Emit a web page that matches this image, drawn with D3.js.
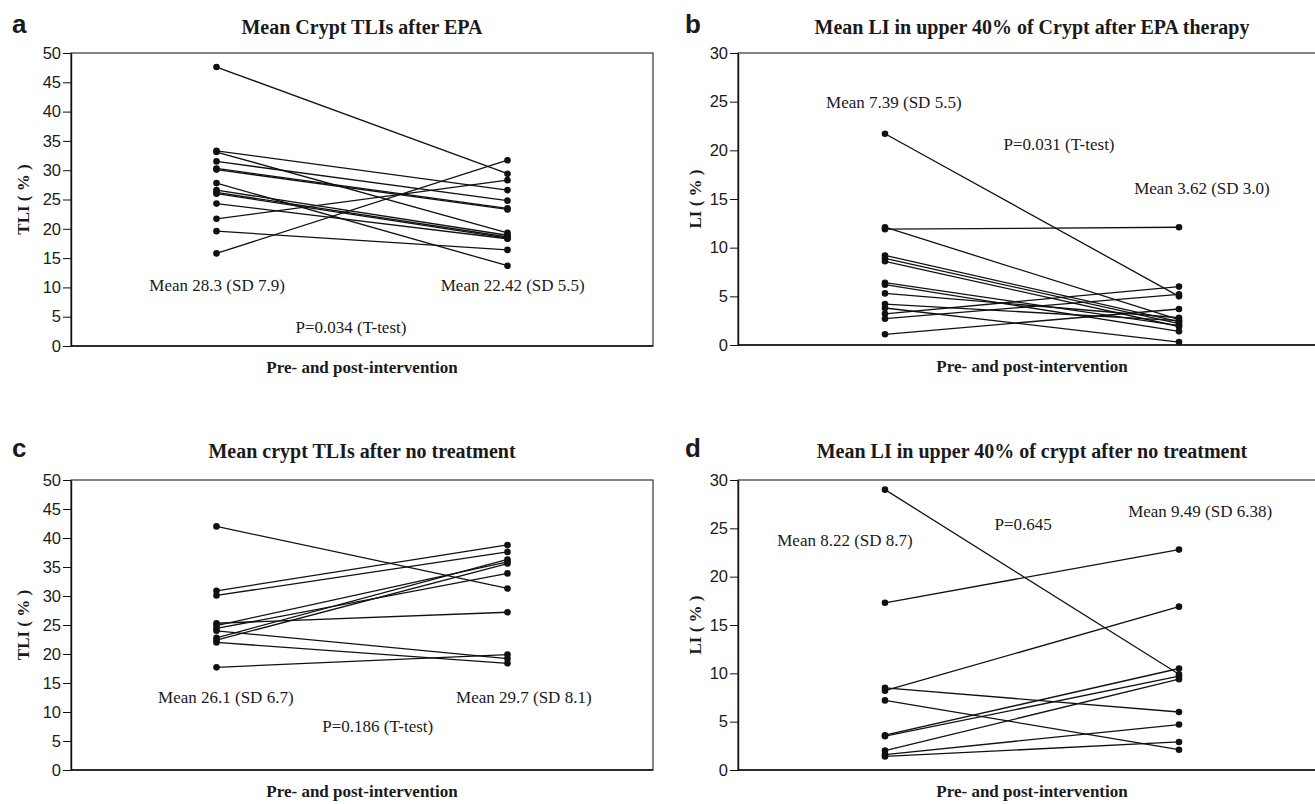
<!DOCTYPE html>
<html>
<head>
<meta charset="utf-8">
<script src="https://cdn.jsdelivr.net/npm/d3@7"></script>
<style>
  body { margin: 0; background: #fff; }
  svg text { fill: #1a1a1a; }
</style>
</head>
<body>
<svg id="fig" width="1315" height="804"></svg>
<script>
// ---- data ----
var phases = ['Pre', 'Post']

// a - mean crypt TLI after EPA (%)
var tliEpaPre  = [47.6, 33.3, 33.1, 31.5, 30.3, 30.1, 27.8, 26.6, 26.2, 26.0, 24.3, 21.7, 19.6, 15.8]
var tliEpaPost = [29.4, 26.6, 19.3, 24.8, 23.5, 23.3, 13.7, 18.9, 18.6, 18.4, 18.3, 28.3, 16.4, 31.7]

// b - mean LI in upper 40% of crypt after EPA (%)
var liEpaPre  = [21.7, 11.9, 12.1, 9.2, 8.9, 8.6, 6.4, 6.2, 5.3, 4.2, 3.8, 3.2, 2.7, 1.1]
var liEpaPost = [5.0, 12.1, 2.6, 2.4, 2.2, 1.9, 2.0, 1.4, 2.8, 2.5, 0.3, 6.0, 5.2, 3.7]

// c - mean crypt TLI after no treatment (%)
var tliNonePre  = [42.0, 30.9, 30.1, 25.3, 24.9, 24.4, 24.0, 22.8, 22.4, 22.0, 17.7]
var tliNonePost = [31.3, 38.8, 37.6, 27.2, 35.9, 33.9, 19.2, 36.3, 35.6, 18.4, 19.9]

// d - mean LI in upper 40% of crypt after no treatment (%)
var liNonePre  = [29.0, 17.3, 8.5, 8.2, 7.2, 3.6, 3.5, 2.0, 1.6, 1.4]
var liNonePost = [9.9, 22.8, 6.0, 16.9, 2.1, 10.5, 9.7, 9.4, 4.7, 2.9]

var yTicksTli = [0, 5, 10, 15, 20, 25, 30, 35, 40, 45, 50]
var yTicksLi  = [0, 5, 10, 15, 20, 25, 30]

var xTitle = 'Pre- and post-intervention'

// panel layout
var panels = [
  { tag: 'a', title: 'Mean Crypt TLIs after EPA', yLabel: 'TLI ( % )', ticks: yTicksTli,
    pre: tliEpaPre, post: tliEpaPost, box: { x: 71, y: 53, w: 582, h: 293 }, ylabX: 29, titleY: 34,
    notes: [ ['Mean 28.3 (SD 7.9)', 0.251, 10.4], ['Mean 22.42 (SD 5.5)', 0.759, 10.4], ['P=0.034 (T-test)', 0.481, 3.1] ] },
  { tag: 'b', title: 'Mean LI in upper 40% of Crypt after EPA therapy', yLabel: 'LI ( % )', ticks: yTicksLi,
    pre: liEpaPre, post: liEpaPost, box: { x: 738, y: 53, w: 588, h: 292 }, ylabX: 701, titleY: 34,
    notes: [ ['Mean 7.39 (SD 5.5)', 0.265, 24.9], ['P=0.031 (T-test)', 0.546, 20.6], ['Mean 3.62 (SD 3.0)', 0.789, 16.1] ] },
  { tag: 'c', title: 'Mean crypt TLIs after no treatment', yLabel: 'TLI ( % )', ticks: yTicksTli,
    pre: tliNonePre, post: tliNonePost, box: { x: 71, y: 480, w: 582, h: 290 }, ylabX: 29, titleY: 458,
    notes: [ ['Mean 26.1 (SD 6.7)', 0.266, 12.5], ['Mean 29.7 (SD 8.1)', 0.778, 12.5], ['P=0.186 (T-test)', 0.527, 7.5] ] },
  { tag: 'd', title: 'Mean LI in upper 40% of crypt after no treatment', yLabel: 'LI ( % )', ticks: yTicksLi,
    pre: liNonePre, post: liNonePost, box: { x: 738, y: 480, w: 588, h: 290 }, ylabX: 701, titleY: 458,
    notes: [ ['Mean 8.22 (SD 8.7)', 0.182, 23.8], ['P=0.645', 0.485, 25.4], ['Mean 9.49 (SD 6.38)', 0.786, 26.8] ] }
]

var serif = '"Liberation Serif", "Times New Roman", serif'
var sans  = '"Liberation Sans", Arial, sans-serif'

var svg = d3.select('#fig')

panels.forEach(function(p) {
  var b = p.box
  var x = d3.scalePoint().domain(phases).range([0, b.w]).padding(0.5)
  var y = d3.scaleLinear().domain([0, d3.max(p.ticks)]).range([b.h, 0])
  var left = b.x < 400

  // panel letter
  svg.append('text')
      .attr('x', left ? 12 : 685)
      .attr('y', p.titleY - 1)
      .style('font-family', sans).style('font-weight', 'bold').style('font-size', '26px')
      .text(p.tag)

  // title
  svg.append('text')
      .attr('x', b.x + b.w / 2)
      .attr('y', p.titleY)
      .attr('text-anchor', 'middle')
      .style('font-family', serif).style('font-weight', 'bold').style('font-size', '20px')
      .text(p.title)

  var g = svg.append('g').attr('transform', 'translate(' + b.x + ',' + b.y + ')')

  // frame
  g.append('rect')
      .attr('width', b.w).attr('height', b.h)
      .attr('fill', 'none').attr('stroke', '#333').attr('stroke-width', 1.2)

  // y axis
  var ax = g.append('g')
      .call(d3.axisLeft(y).tickValues(p.ticks).tickSize(8).tickPadding(2).tickSizeOuter(0))
  ax.select('.domain').attr('stroke', '#111').attr('stroke-width', 1.4)
  ax.selectAll('.tick line').attr('stroke', '#111')
  ax.selectAll('.tick text')
      .style('font-family', sans).style('font-size', '16.5px').attr('fill', '#1a1a1a')

  // bottom line
  g.append('line')
      .attr('x1', 0).attr('x2', b.w).attr('y1', b.h).attr('y2', b.h)
      .attr('stroke', '#111').attr('stroke-width', 1.4)

  // y title
  svg.append('text')
      .attr('transform', 'translate(' + p.ylabX + ',' + (b.y + b.h / 2) + ') rotate(-90)')
      .attr('text-anchor', 'middle')
      .style('font-family', serif).style('font-weight', 'bold').style('font-size', '17px')
      .text(p.yLabel)

  // x title
  svg.append('text')
      .attr('x', b.x + b.w / 2)
      .attr('y', b.y + b.h + 27)
      .attr('text-anchor', 'middle')
      .style('font-family', serif).style('font-weight', 'bold').style('font-size', '17px')
      .text(xTitle)

  // paired lines
  var pairs = p.pre.map(function(v, i) { return [v, p.post[i]] })
  g.selectAll('line.pair').data(pairs).enter().append('line')
      .attr('class', 'pair')
      .attr('x1', x('Pre')).attr('x2', x('Post'))
      .attr('y1', function(d) { return y(d[0]) })
      .attr('y2', function(d) { return y(d[1]) })
      .attr('stroke', '#111').attr('stroke-width', 1.3)

  var pts = []
  pairs.forEach(function(d) { pts.push(['Pre', d[0]]); pts.push(['Post', d[1]]) })
  g.selectAll('circle').data(pts).enter().append('circle')
      .attr('cx', function(d) { return x(d[0]) })
      .attr('cy', function(d) { return y(d[1]) })
      .attr('r', 3.3)
      .attr('fill', '#111')

  // annotations
  g.selectAll('text.note').data(p.notes).enter().append('text')
      .attr('class', 'note')
      .attr('x', function(d) { return d[1] * b.w })
      .attr('y', function(d) { return y(d[2]) })
      .attr('dy', '0.33em')
      .attr('text-anchor', 'middle')
      .style('font-family', serif).style('font-size', '17px')
      .text(function(d) { return d[0] })
})
</script>
</body>
</html>
